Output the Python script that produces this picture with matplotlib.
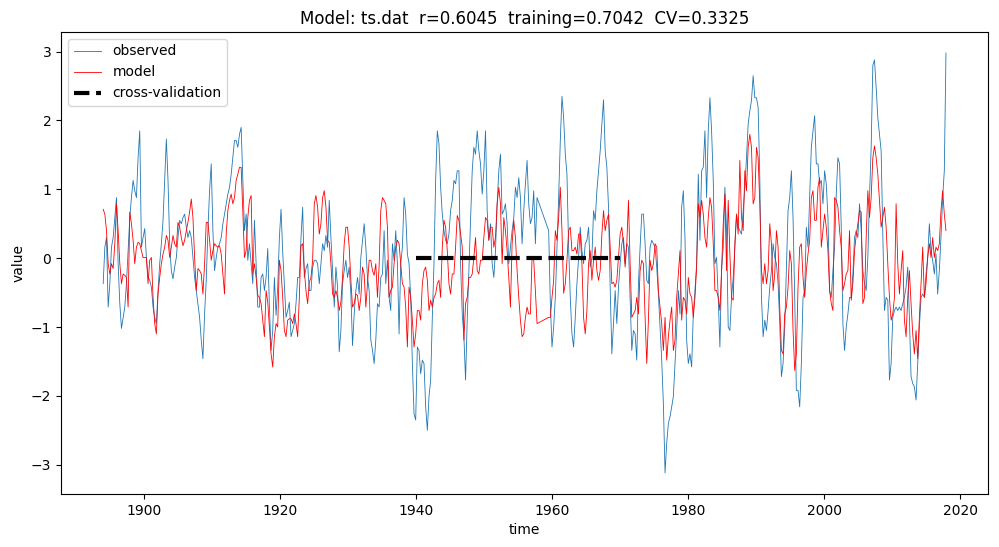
import numpy as np
import matplotlib
matplotlib.use("Agg")
import matplotlib.pyplot as plt

# time grid (years): start of each data segment and sampling step
step = 0.24428
seg_starts = [1894.045, 1914.319, 1935.571, 1956.823, 1959.509, 1978.075, 1999.326]

obs_1894 = [-0.37, 0.16, 0.30, -0.71, -0.37, 0.16, 0.30, 0.59, 0.88, -0.08,
            -0.66, -1.02, -0.86, -0.71, -0.37, 0.11, 0.59, 0.88, 1.13, 0.98,
            0.88, 1.46, 1.85, 0.16, 0.30, 0.43, 0.01, -0.28, -0.32, -0.42,
            -0.71, -0.86, -0.95, -0.47, -0.08, 0.21, 0.55, 1.13, 1.73, 1.13,
            0.21, -0.18, -0.30, -0.13, 0.01, 0.30, 0.55, 0.50, 0.59, 0.64,
            0.45, 0.30, 0.40, 0.30, 0.01, -0.28, -0.47, -0.66, -0.86, -1.19,
            -1.46, -0.81, -0.32, 0.40, 0.98, 1.37, 0.40, -0.18, 0.01, 0.16,
            0.21, 0.30, 0.50, 0.64, 0.79, 0.93, 1.03, 1.22, 1.46, 1.71,
            1.71, 1.61, 1.80]
obs_1914 = [1.90, 1.13, 0.40, 0.64, -0.03, 0.21, -0.08, -0.37, 0.55, -0.08,
            -0.71, -0.71, -0.28, -0.23, -0.47, -0.28, 0.14, -0.71, -1.34, -1.05,
            -0.28, -0.83, -0.42, 0.30, 0.71, 0.09, -0.37, -0.86, -0.76, -0.64,
            -1.14, -1.05, -0.95, -0.66, -0.28, -0.28, 0.30, 0.74, -0.28, -0.15,
            -0.08, -0.47, -0.47, -0.13, -0.03, -0.03, -0.08, -0.37, -0.08, 0.21,
            0.11, 0.33, 0.16, 0.84, 0.30, -0.18, -0.71, -0.13, -0.42, -1.36,
            -1.05, -0.37, -0.18, -0.03, -0.28, -0.13, -0.52, -1.27, -0.81, -0.47,
            -0.28, -0.52, 0.01, 0.26, 0.50, 0.16, -0.28, -0.47, -1.19, -1.34,
            -1.53, -1.19, -0.66, -0.71, -0.28, -0.23, 0.40]
obs_1935 = [-0.37, -0.03, -0.57, -0.76, 0.21, -0.03, 0.40, -0.08, -1.10, -0.08,
            0.16, 0.88, 0.64, 0.06, -0.08, -0.57, -1.53, -2.26, -2.35, -1.29,
            -1.34, -1.68, -1.48, -1.53, -2.16, -2.50, -2.01, -1.77, -0.86, -0.08,
            1.13, 1.85, 1.66, 1.03, 0.64, 0.40, 0.26, 0.21, 0.35, 0.69,
            0.84, 1.13, 1.08, 1.27, 1.27, -0.08, -0.81, -1.14, -1.77, -0.90,
            -0.18, 0.50, 1.27, 1.61, 1.51, 1.85, 1.56, 1.37, 0.93, 1.27,
            1.85, 0.69, 0.26, 0.50, -0.08, -0.28, 0.11, 0.79, 1.27, 1.51,
            0.64, 0.69, 0.79, 0.50, -0.08, 0.16, 0.40, 0.59, 1.03, 0.88,
            1.17, 0.88, 0.21, 0.69, 1.08, 1.42, 0.79]
obs_1956 = [0.50, 0.59, 0.98, 0.21, 0.88]
obs_1959 = [0.40, -0.66, -1.29, -1.00, -0.57, 0.16, 0.88, 1.71, 2.35, 2.04,
            1.51, 1.22, 0.16, -0.57, -1.10, -1.29, -0.86, -0.37, 0.01, 0.45,
            0.11, -0.08, 0.21, 0.26, 0.45, -0.13, 0.01, 0.69, 0.55, 0.98,
            1.27, 1.56, 1.95, 2.30, 1.56, 1.32, 0.74, -0.42, -1.39, -0.95,
            -0.47, -0.95, -0.42, -0.08, 0.21, 0.30, -0.08, 0.21, 0.16, -0.57,
            -1.34, -1.05, -1.10, -1.48, -0.37, 0.16, 0.64, 0.64, 0.21, -0.32,
            -0.37, 0.16, 0.26, 0.21, 0.16, -0.13, -0.52, -1.00, -1.48, -2.11,
            -3.12, -2.69, -2.40, -2.30, -2.16, -2.01]
obs_1978 = [-1.53, -1.05, -0.47, -0.81, 0.74, 0.98, 0.30, -1.19, -1.53, -1.39,
            -1.58, -0.81, -0.47, -0.08, 1.22, 0.26, 1.27, 1.32, 1.85, 0.88,
            1.85, 2.33, 1.85, 1.13, -0.08, 0.01, -0.57, -1.29, -0.18, 0.16,
            1.03, 0.40, -1.00, -1.05, -0.57, -0.28, 0.16, 0.64, 0.45, 0.40,
            0.35, 0.69, 1.03, 1.46, 1.95, 2.14, 2.29, 2.65, 2.33, 2.33,
            2.19, 1.17, -0.57, -1.14, -0.90, -1.05, -0.76, -0.42, -0.18, 0.21,
            0.01, -0.08, -0.37, -0.95, -1.72, -1.53, -1.00, -0.18, 0.69, 0.88,
            1.27, 0.59, -0.57, -1.92, -1.92, -2.16, -1.53, -0.57, -0.47, 0.45,
            0.16, 0.88, 1.61, 1.85, 2.07, 1.37, 1.37]
obs_1999 = [1.08, 1.13, 0.79, 1.27, 1.08, 0.59, -0.47, -0.57, -0.18, 0.16,
            0.93, 1.46, 1.37, 0.45, -0.95, -1.34, -1.00, -0.81, -0.57, -0.57,
            -0.23, 0.30, 0.40, 0.30, 0.79, 0.40, -0.18, -0.37, -0.47, 0.01,
            0.88, 1.61, 2.80, 2.88, 2.48, 2.04, 1.80, 1.56, 0.35, -0.76,
            -0.57, -0.61, -1.77, -1.53, -0.86, -0.76, -0.71, -0.76, -0.71, -0.76,
            -0.66, -0.57, -0.42, -0.13, -0.86, -1.72, -1.82, -1.87, -2.06, -1.53,
            -1.00, -0.57, -0.52, -0.57, -0.23, 0.01, 0.50, 0.11, -0.03, -0.23,
            0.06, -0.52, -0.18, 0.30, 0.88, 1.27, 2.98]

mod_1894 = [0.71, 0.64, 0.40, -0.08, -0.23, -0.08, -0.15, 0.21, 0.79, 0.40,
            -0.08, -0.37, -0.23, -0.25, -0.28, -0.71, 0.67, 0.50, 0.26, -0.08,
            0.16, 0.23, 0.21, 0.11, 0.01, 0.01, 0.01, -0.37, -0.03, 0.01,
            -0.57, -0.95, -1.10, -0.52, -0.28, -0.08, 0.06, 0.16, 0.33, 0.26,
            0.01, 0.16, 0.33, 0.21, 0.16, 0.52, 0.45, 0.30, 0.18, 0.26,
            0.40, 0.52, 0.67, 0.86, 0.59, 0.01, -0.47, -0.15, -0.18, -0.23,
            -0.52, -0.08, 0.52, 0.52, 0.26, -0.03, 0.11, 0.21, 0.18, 0.16,
            0.18, 0.06, -0.23, -0.52, 0.35, 0.69, 0.84, 0.93, 0.79, 0.88,
            1.13, 1.22, 1.32]
mod_1914 = [1.32, 0.69, 0.01, 0.11, 0.59, 0.84, 0.91, -0.23, -0.08, -0.28,
            -0.54, -0.57, -0.66, -0.90, -1.14, -0.47, -0.64, -1.00, -1.39, -1.58,
            -1.14, -0.95, -1.00, -0.03, -0.18, -0.57, -1.05, -1.14, -0.90, -0.88,
            -0.88, -0.95, -0.81, -0.95, -1.14, -0.57, 0.18, 0.21, -0.18, -0.47,
            -0.66, -0.35, -0.28, -0.03, 0.79, 0.91, 0.74, 0.35, 0.50, 0.88,
            0.98, 0.74, 0.26, 0.23, -0.08, -0.52, -0.57, -0.47, -0.57, -0.76,
            -0.64, -0.28, 0.21, 0.45, 0.45, 0.16, -0.32, -0.71, -0.66, -0.52,
            -0.54, -0.76, -0.57, -0.13, -0.23, -0.71, -0.37, -0.03, -0.03, -0.18,
            -0.25, -0.08, -0.57, -0.11, 0.69, 0.88, 0.84]
mod_1935 = [0.79, 0.45, -0.57, -0.47, -0.42, -0.08, 0.16, 0.26, 0.21, -0.08,
            -0.37, -0.42, -0.71, -1.29, -0.42, -0.57, -0.90, -1.29, -1.10, -0.76,
            -0.76, -0.90, -0.37, -0.18, -0.13, -0.32, -0.76, -0.61, -0.71, -0.57,
            -0.52, -0.37, -0.32, -0.57, 0.16, 0.55, 0.45, 0.11, -0.37, -0.52,
            -0.23, -0.23, 0.16, 0.62, 0.55, 0.35, 0.16, -1.19, -0.66, -0.57,
            -0.28, -0.28, -0.23, 0.01, 0.30, -0.18, -0.23, -0.03, -0.03, 0.30,
            0.59, 0.55, 0.26, 0.45, 0.45, 0.16, 0.30, 0.79, 1.03, 0.79,
            -0.08, 0.59, 0.40, 0.11, -0.28, -0.71, 0.21, 0.55, 0.30, -0.18,
            -0.57, -0.90, -1.14, -1.10, -0.86, -0.71, -0.81]
mod_1956 = [-0.81, 0.01, -0.03, -0.47, -0.95]
mod_1959 = [-0.86, -0.86, -0.57, -0.32, 0.40, 0.26, 0.59, 1.03, 0.40, -0.51,
            -0.37, -0.03, 0.40, 0.45, 0.11, 0.11, 0.16, 0.06, 0.35, 0.35,
            -0.08, -0.86, -1.10, -0.76, -0.08, 0.11, -0.32, -0.03, 0.16, -0.18,
            -0.32, -0.18, 0.35, 0.69, 0.40, 0.55, 0.64, 0.16, -0.37, -0.35,
            -0.42, -0.32, 0.01, 0.35, 0.45, 0.21, -0.13, 0.21, 0.84, -0.08,
            -0.86, -0.81, -0.76, -0.57, -0.81, -0.18, -0.03, -0.08, -0.86, -1.53,
            -0.90, -0.03, -0.18, -0.08, 0.21, 0.16, -0.47, -0.71, -0.95, -1.34,
            -0.86, -1.48, -1.14, -0.90, -0.71, -1.34]
mod_1978 = [-1.19, -0.57, -0.23, 0.11, -0.90, -0.57, -0.61, -0.81, -0.28, -0.52,
            -0.57, -0.86, -0.57, -0.13, 0.79, 0.59, 0.84, 0.64, 0.30, 0.16,
            0.59, 0.88, 0.74, 0.21, -0.47, -0.47, -0.57, -0.76, -0.18, 0.50,
            0.93, -0.18, 0.84, 0.06, -0.57, -0.61, 0.21, 0.64, 0.35, 1.42,
            0.59, 0.40, 1.27, 0.98, 1.61, 1.80, 1.61, 0.79, 0.88, 1.61,
            1.46, 0.79, -0.18, -0.37, -0.08, -0.37, -0.18, 0.50, 0.21, -0.47,
            -0.23, 0.40, 0.16, -0.71, -1.34, -1.39, -0.81, -0.71, -0.42, 0.11,
            -0.08, -1.05, -1.63, -1.39, -0.42, 0.16, 0.21, -0.28, -0.57, -0.18,
            0.06, 0.26, 0.88, 0.98, 0.55, 0.55, 1.03]
mod_1999 = [1.17, 0.16, 0.40, 0.64, 0.45, 0.11, -0.47, -0.66, -0.76, 0.88,
            0.84, 0.74, 0.40, 0.16, -0.47, -0.37, -0.23, -0.18, 0.40, -0.61,
            -0.37, 0.11, 0.33, 0.50, 0.69, 0.67, -0.66, -0.57, 0.30, 0.98,
            0.59, 0.88, 1.46, 1.63, 1.46, 1.22, 0.84, 0.45, 0.59, 0.74,
            0.45, -0.08, -0.57, -0.90, -0.81, -0.57, 0.79, -0.08, -0.52, -0.18,
            0.11, -0.90, -1.14, -0.57, -0.18, -0.66, -1.10, -1.39, -1.05, -1.46,
            -0.86, -0.37, 0.16, -0.57, -0.37, 0.01, 0.21, 0.01, 0.30, 0.01,
            0.16, 0.11, 0.21, 0.69, 0.98, 0.64, 0.40]

obs_segments = [obs_1894, obs_1914, obs_1935, obs_1956, obs_1959, obs_1978, obs_1999]
mod_segments = [mod_1894, mod_1914, mod_1935, mod_1956, mod_1959, mod_1978, mod_1999]

cv_period = [1940, 1970]
cv_level = [0, 0]

title = "Model: ts.dat  r=0.6045  training=0.7042  CV=0.3325"


def build(segments):
    t, v = [], []
    for start, seg in zip(seg_starts, segments):
        t.extend(start + step * np.arange(len(seg)))
        v.extend(seg)
    return np.array(t), np.array(v)


t_obs, v_obs = build(obs_segments)
t_mod, v_mod = build(mod_segments)

fig = plt.figure(figsize=(9.99, 5.47), dpi=100)
ax = fig.add_axes([0.0611, 0.0969, 0.928, 0.8446])
ax.plot(t_obs, v_obs, color="#1f77b4", lw=0.6, label="observed")
ax.plot(t_mod, v_mod, color="red", lw=0.6, label="model")
ax.plot(cv_period, cv_level, "k--", lw=3, label="cross-validation")
ax.set_title(title)
ax.set_xlabel("time")
ax.set_ylabel("value")
ax.legend(loc="upper left")
fig.savefig("out.png", dpi=100)
